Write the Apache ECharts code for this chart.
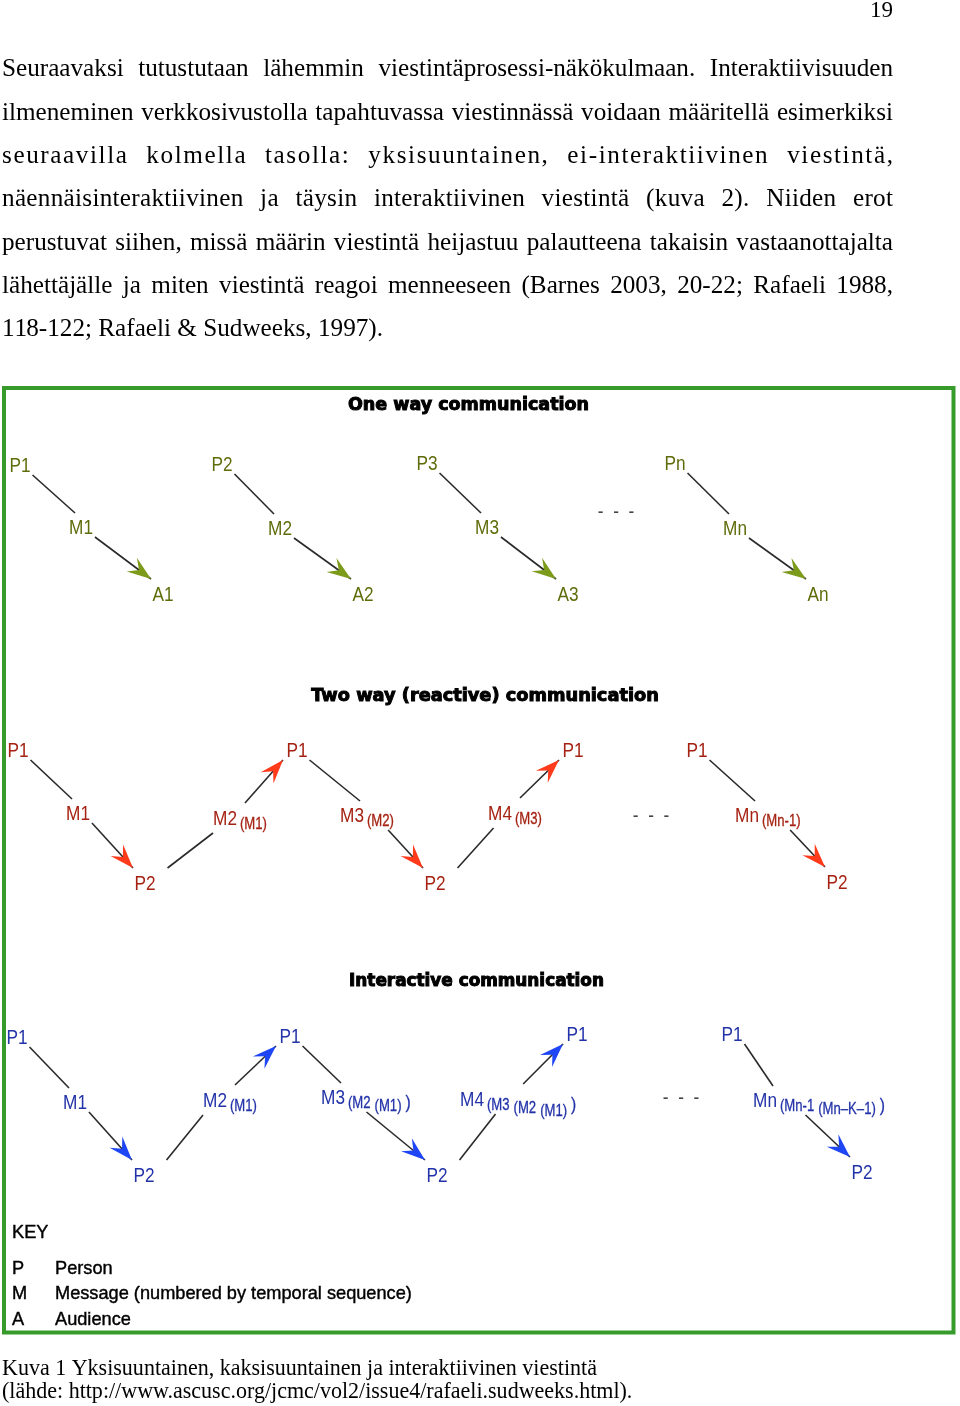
<!DOCTYPE html>
<html><head><meta charset="utf-8">
<script src="https://cdn.jsdelivr.net/npm/echarts@6/dist/echarts.min.js"></script>
<style>html,body{margin:0;padding:0;background:#fff}#c{width:960px;height:1406px}</style>
</head><body><div id="c"></div>
<script>
// ---------------- text content ----------------
const pageNumber = '19';
const bodyLines = [
  'Seuraavaksi tutustutaan lähemmin viestintäprosessi-näkökulmaan. Interaktiivisuuden',
  'ilmeneminen verkkosivustolla tapahtuvassa viestinnässä voidaan määritellä esimerkiksi',
  'seuraavilla kolmella tasolla: yksisuuntainen, ei-interaktiivinen viestintä,',
  'näennäisinteraktiivinen ja täysin interaktiivinen viestintä (kuva 2). Niiden erot',
  'perustuvat siihen, missä määrin viestintä heijastuu palautteena takaisin vastaanottajalta',
  'lähettäjälle ja miten viestintä reagoi menneeseen (Barnes 2003, 20-22; Rafaeli 1988,',
  '118-122; Rafaeli & Sudweeks, 1997).'
];
const captionLines = [
  'Kuva 1 Yksisuuntainen, kaksisuuntainen ja interaktiivinen viestintä',
  '(lähde: http://www.ascusc.org/jcmc/vol2/issue4/rafaeli.sudweeks.html).'
];
const sectionTitles = ['One way communication', 'Two way (reactive) communication', 'Interactive communication'];
const keyTitle = 'KEY';
const keyLetters = ['P', 'M', 'A'];
const keyMeanings = ['Person', 'Message (numbered by temporal sequence)', 'Audience'];

// ---------------- diagram data (diagram units = page pixels) ----------------
// Section 1: one way
const oneWayLabels = ['P1','M1','A1','P2','M2','A2','P3','M3','A3','-  -  -','Pn','Mn','An'];
const oneWaySubs   = [[],[],[],[],[],[],[],[],[],[],[],[],[]];
const oneWayX      = [20, 81, 163, 222, 280, 363, 427, 487, 568, 616, 675, 735, 818];
const oneWayY      = [465, 527, 594, 464, 528, 594, 463, 527, 594, 511, 463, 528, 594];
const oneWayEdges  = [[0,1,0],[1,2,1],[3,4,0],[4,5,1],[6,7,0],[7,8,1],[10,11,0],[11,12,1]];

// Section 2: two way (reactive)
const twoWayLabels = ['P1','M1','P2','M2','P1','M3','P2','M4','P1','-  -  -','P1','Mn','P2'];
const twoWaySubs   = [[],[],[],['(M1)'],[],['(M2)'],[],['(M3)'],[],[],[],['(Mn-1)'],[]];
const twoWayX      = [18, 78, 145, 225, 297, 352, 435, 500, 573, 651, 697, 747, 837];
const twoWayY      = [750, 813, 883, 818, 750, 815, 883, 813, 750, 815, 750, 815, 882];
const twoWayEdges  = [[0,1,0],[1,2,1],[2,3,0],[3,4,1],[4,5,0],[5,6,1],[6,7,0],[7,8,1],[10,11,0],[11,12,1]];

// Section 3: interactive
const interLabels = ['P1','M1','P2','M2','P1','M3','P2','M4','P1','-  -  -','P1','Mn','P2'];
const interSubs   = [[],[],[],['(M1)'],[],['(M2','(M1)',')'],[],['(M3','(M2','(M1)',')'],[],[],[],['(Mn-1','(Mn–K–1)',')'],[]];
const interX      = [17, 75, 144, 215, 290, 333, 437, 472, 577, 681, 732, 765, 862];
const interY      = [1037, 1102, 1175, 1100, 1036, 1097, 1175, 1099, 1034, 1097, 1034, 1100, 1172];
const interEdges  = [[0,1,0],[1,2,1],[2,3,0],[3,4,1],[4,5,0],[5,6,1],[6,7,0],[7,8,1],[10,11,0],[11,12,1]];

// ---------------- styles ----------------
const labelColors = ['#5f6c0a', '#a52212', '#2232a8'];
const arrowColors = ['#7d9b1a', '#ff3b1c', '#1f46f5'];
const dotsColor = '#444';
const lineColor = '#2a2a2a';
const borderColor = '#369b2b';
const labelFamily = "'Liberation Sans',Arial,sans-serif";
const labelScale = 0.82;
const labelFont = "21px " + labelFamily;
const subFont = "16px " + labelFamily;
const subCloseFont = "19px " + labelFamily;
const serif = "'Liberation Serif','Times New Roman',serif";
const sans = "'Liberation Sans',Arial,sans-serif";
const titleFamily = "'DejaVu Sans',Verdana,sans-serif";

const sections = [
  {labels: oneWayLabels, subs: oneWaySubs, xs: oneWayX, ys: oneWayY, edges: oneWayEdges},
  {labels: twoWayLabels, subs: twoWaySubs, xs: twoWayX, ys: twoWayY, edges: twoWayEdges},
  {labels: interLabels, subs: interSubs, xs: interX, ys: interY, edges: interEdges}
];

// ---------------- measuring helpers ----------------
const mctx = document.createElement('canvas').getContext('2d');
function textWidth(s, font) { mctx.font = font; return mctx.measureText(s).width; }
function fitSize(s, family, weight, target) { return 100 * target / textWidth(s, weight + ' 100px ' + family); }

function subFontFor(sub) { return sub === ')' ? subCloseFont : subFont; }
// layout of a label: main centered at x, subscripts appended to the right
function labelLayout(S, i) {
  const main = S.labels[i];
  const mw = textWidth(main, labelFont) * labelScale;
  const x = S.xs[i], y = S.ys[i];
  const left = x - mw / 2, right = x + mw / 2;
  const subs = S.subs[i];
  const parts = [];
  let cx = right + 3;
  let level = 0;
  subs.forEach(function (s) {
    const f = subFontFor(s);
    const w = textWidth(s, f) * labelScale;
    const dy = s === ')' ? 5 : 6 + 3 * level;
    if (s !== ')') level++;
    parts.push({text: s, x: cx, dy: dy, font: f, w: w});
    cx += w + 4;
  });
  return {x: x, y: y, main: main, mw: mw, left: left, right: right,
          parts: parts, hasSubs: subs.length > 0,
          subW0: parts.length ? parts[0].w : 0,
          boxRight: parts.length ? cx - 4 : right};
}

function edgeSegment(S, a, b, arrow) {
  const A = labelLayout(S, a), B = labelLayout(S, b);
  let sx, sy, ex, ey;
  if (B.y > A.y) { // going down-right
    sx = A.hasSubs ? A.right + 0.6 * A.subW0 + 8 : A.right + 2;
    sy = A.y + (A.hasSubs ? 15 : 10);
    if (arrow) { ex = B.x - 12; ey = B.y - 15; }
    else { ex = B.hasSubs ? B.x + 8 : B.x - 6; ey = B.y - 14; }
  } else { // going up-right
    sx = A.hasSubs ? (A.left + A.boxRight) / 2 + 5 : A.right + 12;
    sy = A.y - 15;
    if (arrow) { ex = B.x - 14; ey = B.y + 10; }
    else { ex = Math.max(B.x - 12, sx + 36); ey = B.y + 15; }
  }
  return [sx, sy, ex, ey];
}

// ---------------- series data ----------------
const edgeData = [];
const nodeData = [];
sections.forEach(function (S, si) {
  S.edges.forEach(function (e) {
    const seg = edgeSegment(S, e[0], e[1], e[2]);
    edgeData.push(seg.concat([si, e[2]]));
  });
  S.labels.forEach(function (l, i) {
    nodeData.push([S.xs[i], S.ys[i], si, i]);
  });
});

// ---------------- static text graphics ----------------
const graphics = [];
function addText(text, x, y, font, fill, align, stroke) {
  const st = {text: text, font: font, fill: fill, align: align, textAlign: align,
              verticalAlign: 'middle', textVerticalAlign: 'middle'};
  if (stroke) { st.stroke = fill; st.lineWidth = stroke; }
  graphics.push({type: 'text', x: x, y: y, silent: true, style: st});
}

// page number
addText(pageNumber, 893, 11, "23px " + serif, '#000', 'right');

// body text (justified)
const bodySize = fitSize(bodyLines[bodyLines.length - 1], serif, 'normal', 381);
const bodyFont = bodySize.toFixed(2) + 'px ' + serif;
bodyLines.forEach(function (line, i) {
  const base = 77.5 + 43.33 * i;
  const yMid = base - 0.305 * bodySize;
  const justify = i < bodyLines.length - 1;
  const chars = Array.from(line);
  const natural = textWidth(line, bodyFont);
  const gaps = chars.filter(function (c) { return c === ' '; }).length;
  let ls = 0, ws = 0;
  if (justify) {
    const E = 891 - natural;
    ls = Math.max(0, (E - gaps * 10) / (chars.length - 1));
    ws = gaps ? (E - ls * (chars.length - 1)) / gaps : 0;
  }
  let spaces = 0;
  for (let k = 0; k < chars.length; k++) {
    if (chars[k] === ' ') { spaces++; continue; }
    const x = 2 + textWidth(chars.slice(0, k).join(''), bodyFont) + ls * k + ws * spaces;
    addText(chars[k], x, yMid, bodyFont, '#000', 'left');
  }
});

// frame
graphics.push({type: 'rect', silent: true, shape: {x: 4, y: 388, width: 949.5, height: 944.5},
  style: {fill: 'none', stroke: borderColor, lineWidth: 4}});

// section titles
const titleCenters = [[468.5, 405], [485, 696], [476.5, 982]];
const titleWidths = [243, 350, 257];
sectionTitles.forEach(function (t, i) {
  const s = fitSize(t, titleFamily, 'bold', titleWidths[i] - 2);
  addText(t, titleCenters[i][0], titleCenters[i][1], 'bold ' + s.toFixed(2) + 'px ' + titleFamily, '#000', 'center', 1);
});

// key
const keySize = fitSize(keyMeanings[1], sans, 'normal', 357);
const keyFont = keySize.toFixed(2) + 'px ' + sans;
addText(keyTitle, 12, 1233, keyFont, '#000', 'left', 0.4);
const keyYs = [1269, 1294, 1320];
keyLetters.forEach(function (k, i) {
  addText(k, 12, keyYs[i], keyFont, '#000', 'left', 0.4);
  addText(keyMeanings[i], 55, keyYs[i], keyFont, '#000', 'left', 0.4);
});

// caption
const capSize = fitSize(captionLines[0], serif, 'normal', 595);
const capFont = capSize.toFixed(2) + 'px ' + serif;
captionLines.forEach(function (l, i) {
  addText(l, 2, (1376 + 23 * i) - 0.305 * capSize, capFont, '#000', 'left');
});

// ---------------- chart ----------------
const chart = echarts.init(document.getElementById('c'), null, {renderer: 'canvas', width: 960, height: 1406});
chart.setOption({
  animation: false,
  backgroundColor: '#ffffff',
  grid: {left: 0, right: 0, top: 0, bottom: 0},
  xAxis: {type: 'value', min: 0, max: 960, show: false},
  yAxis: {type: 'value', min: 0, max: 1406, inverse: true, show: false},
  series: [
    {
      type: 'custom', name: 'edges', clip: false, silent: true,
      encode: {x: [0, 2], y: [1, 3]},
      data: edgeData,
      renderItem: function (params, api) {
        const p0 = api.coord([api.value(0), api.value(1)]);
        const p1 = api.coord([api.value(2), api.value(3)]);
        const si = api.value(4), arrow = api.value(5);
        const children = [{type: 'line', shape: {x1: p0[0], y1: p0[1], x2: p1[0], y2: p1[1]},
          style: {stroke: lineColor, lineWidth: 1.6}}];
        if (arrow) {
          const ang = Math.atan2(p1[1] - p0[1], p1[0] - p0[0]);
          children.push({type: 'polygon', x: p1[0], y: p1[1], rotation: -ang,
            shape: {points: [[0, 0], [-24, -8.5], [-15, 0], [-24, 8.5]]},
            style: {fill: arrowColors[si]}});
        }
        return {type: 'group', children: children};
      }
    },
    {
      type: 'custom', name: 'nodes', clip: false, silent: true,
      encode: {x: 0, y: 1},
      data: nodeData,
      renderItem: function (params, api) {
        const si = api.value(2), idx = api.value(3);
        const S = sections[si];
        const L = labelLayout(S, idx);
        const p = api.coord([L.x, L.y]);
        const isDots = L.main.indexOf('-') === 0;
        const color = isDots ? dotsColor : labelColors[si];
        const children = [{type: 'text', x: p[0], y: p[1] + 1, scaleX: labelScale,
          style: {text: L.main, font: labelFont, fill: color, align: 'center', verticalAlign: 'middle'}}];
        L.parts.forEach(function (pt) {
          children.push({type: 'text', x: p[0] + (pt.x - L.x), y: p[1] + 1 + pt.dy, scaleX: labelScale,
            style: {text: pt.text, font: pt.font, fill: color, align: 'left', verticalAlign: 'middle',
                    stroke: color, lineWidth: 0.3}});
        });
        return {type: 'group', children: children};
      }
    }
  ],
  graphic: {elements: graphics}
});
</script>
</body></html>
